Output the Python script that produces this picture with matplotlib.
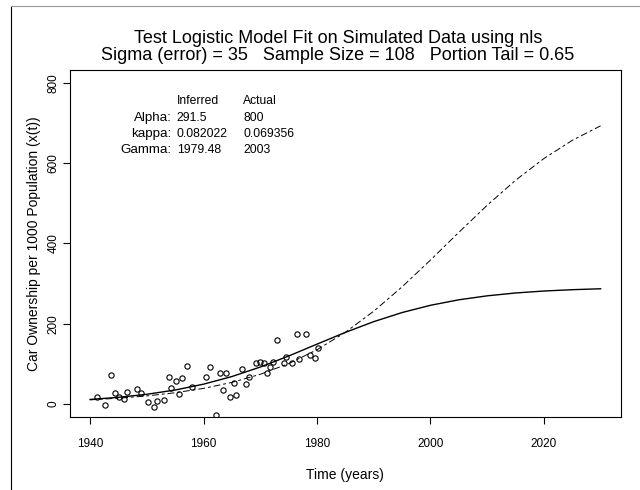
import numpy as np
import matplotlib
matplotlib.use("Agg")
import matplotlib.pyplot as plt
from matplotlib.lines import Line2D

plt.rcParams['font.family'] = ['Liberation Sans', 'DejaVu Sans']

# simulated observations (year, cars per 1000 people)
obs_year = [1941.3, 1942.6, 1943.7, 1944.4, 1945.1, 1946.0, 1946.6, 1948.3,
            1948.9, 1950.3, 1951.3, 1951.8, 1953.1, 1953.9, 1954.3, 1955.1,
            1955.6, 1956.2, 1957.1, 1957.9, 1960.5, 1961.2, 1962.2, 1962.9,
            1963.9, 1963.5, 1964.6, 1965.3, 1965.8, 1966.8, 1967.5, 1968.1,
            1969.2, 1970.0, 1970.6, 1971.2, 1971.7, 1972.2, 1972.9, 1974.1,
            1974.6, 1975.6, 1976.4, 1976.9, 1978.0, 1978.7, 1979.7, 1980.2]
obs_value = [17, -4, 72, 27, 17, 12, 29, 38,
             27, 5, -9, 8, 10, 66, 40, 58,
             24, 64, 94, 43, 67, 92, -28, 78,
             78, 34, 17, 53, 23, 86, 50, 68,
             101, 104, 103, 76, 91, 105, 160, 103,
             116, 103, 175, 112, 173, 121, 115, 140]

# curves read every 5 years
curve_year = [1940, 1945, 1950, 1955, 1960, 1965, 1970, 1975, 1980, 1985,
              1990, 1995, 2000, 2005, 2010, 2015, 2020, 2025, 2030]
fitted = [11.0, 16.3, 23.9, 34.5, 49.1, 68.1, 91.8, 119.3, 148.9, 178.2,
          205.0, 227.7, 245.8, 259.5, 269.4, 276.5, 281.4, 284.7, 287.0]
actual = [10.0, 14.1, 19.8, 27.7, 38.6, 53.5, 73.7, 100.3, 134.9, 178.4,
          231.0, 291.8, 358.5, 427.7, 495.2, 557.5, 611.8, 657.1, 693.4]

param_names = ["Alpha:", "kappa:", "Gamma:"]
inferred = ["291.5", "0.082022", "1979.48"]
true_vals = ["800", "0.069356", "2003"]

fig = plt.figure(figsize=(6.4, 4.9), dpi=100)
ax = fig.add_axes([0.1088, 0.1496, 0.8616, 0.7071])

ax.plot(curve_year, fitted, color='black', lw=1.0)
ax.plot(curve_year, actual, color='black', lw=0.7, dashes=(7, 3, 3, 3))
ax.plot(obs_year, obs_value, 'o', mfc='none', mec='black', ms=3.8, mew=0.8)

ax.set_xlim(1936.4, 2033.6)
ax.set_ylim(-32, 832)
ax.set_xticks([1940, 1960, 1980, 2000, 2020])
ax.set_yticks([0, 200, 400, 600, 800])
ax.tick_params(direction='out', length=5, width=0.8, labelsize=8.5)
ax.tick_params(axis='x', pad=10)
ax.tick_params(axis='y', pad=2.5)
plt.setp(ax.get_yticklabels(), rotation=90, va='center')
for s in ax.spines.values():
    s.set_linewidth(0.8)

ax.set_xlabel("Time (years)", fontsize=10, labelpad=13)
ax.set_ylabel("Car Ownership per 1000 Population (x(t))", fontsize=10, labelpad=4.5)
fig.text(0.528, 0.921, "Test Logistic Model Fit on Simulated Data using nls",
         ha='center', va='center', fontsize=13)
fig.text(0.528, 0.886, "Sigma (error) = 35   Sample Size = 108   Portion Tail = 0.65",
         ha='center', va='center', fontsize=13)

# parameter table
ax.text(1955.3, 754, "Inferred", fontsize=8.7, va='center')
ax.text(1967.0, 754, "Actual", fontsize=8.7, va='center')
for i, name in enumerate(param_names):
    yy = 714 - 40.5 * i
    ax.text(1954.4, yy, name, fontsize=9.6, va='center', ha='right')
    ax.text(1955.3, yy, inferred[i], fontsize=8.7, va='center')
    ax.text(1967.0, yy, true_vals[i], fontsize=8.7, va='center')

# frame of the screenshot
fig.add_artist(Line2D([11/640, 11/640], [0, 1 - 6/490], color='black', lw=0.8))
fig.add_artist(Line2D([11/640, 1], [1 - 6/490, 1 - 6/490], color='#999999', lw=0.8))

fig.savefig("out.png", dpi=100)
